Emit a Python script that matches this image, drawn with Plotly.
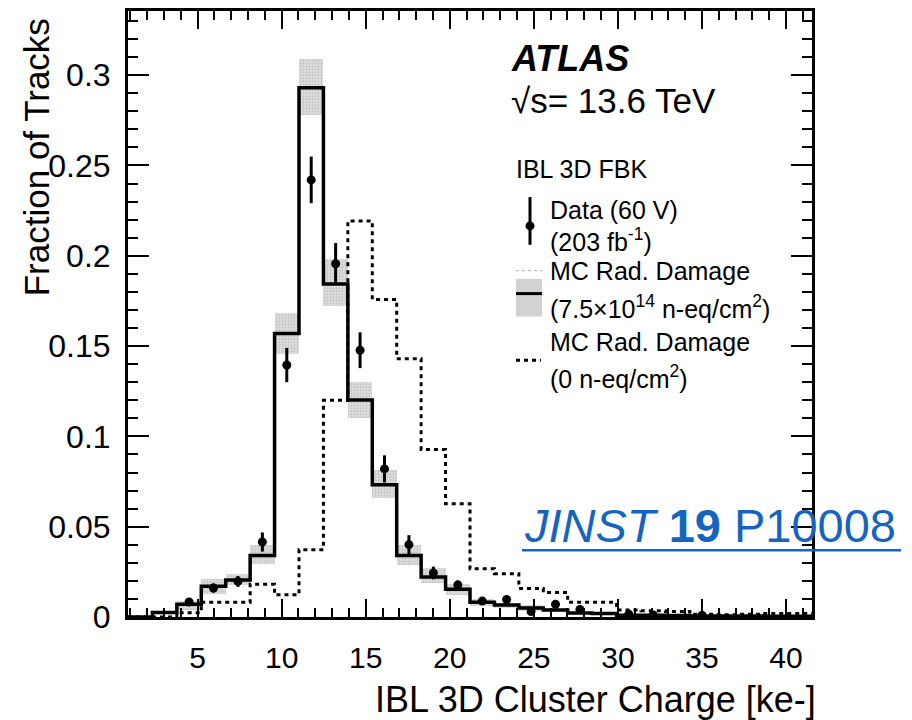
import plotly.graph_objects as go

# ---------------- data ----------------
bin_start = 0.86
bin_width = 1.453
n_bins = 28
edges = [round(bin_start + bin_width * i, 4) for i in range(n_bins + 1)]
centers = [round(bin_start + bin_width * (i + 0.5), 4) for i in range(n_bins)]

mc_rad = [0.0, 0.0025, 0.007, 0.017, 0.0205, 0.034, 0.157, 0.293, 0.1844, 0.1202,
          0.0732, 0.034, 0.0222, 0.0153, 0.0082, 0.0066, 0.005, 0.0039, 0.0022, 0.002,
          0.001, 0.0009, 0.0008, 0.0006, 0.0005, 0.0005, 0.0004, 0.0004]

band_lo = [0.0, 0.0015, 0.004, 0.013, 0.0177, 0.0292, 0.1455, 0.278, 0.172, 0.110,
           0.066, 0.029, 0.019, 0.012, 0.006, 0.005, 0.0035, 0.0028, 0.0014, 0.0013,
           0.0005, 0.0004, 0.0003, 0.0002, 0.0001, 0.0001, 0.0001, 0.0001]
band_hi = [0.0005, 0.0035, 0.009, 0.0208, 0.024, 0.0397, 0.1684, 0.309, 0.198, 0.130,
           0.0815, 0.0397, 0.027, 0.018, 0.010, 0.008, 0.0065, 0.005, 0.003, 0.0028,
           0.0018, 0.0016, 0.0015, 0.0012, 0.001, 0.0012, 0.0012, 0.0011]

mc_norad = [0.0, 0.0, 0.0024, 0.0082, 0.0082, 0.0182, 0.0123, 0.0373, 0.120, 0.2193,
            0.1758, 0.143, 0.0927, 0.0627, 0.0267, 0.0240, 0.0158, 0.0136, 0.0081, 0.0081,
            0.0039, 0.0035, 0.0030, 0.0015, 0.0012, 0.0015, 0.0020, 0.0020]

data_vals = [None, None, 0.0083, 0.016, 0.0197, 0.0415, 0.1395, 0.242, 0.1956, 0.1477,
             0.082, 0.0401, 0.0244, 0.0177, 0.0088, 0.0097, 0.003, 0.007, 0.0042, None,
             0.0015, 0.0011, None, 0.001, None, None, None, None]
data_err = [None, None, 0.0018, 0.0025, 0.003, 0.0053, 0.0095, 0.0129, 0.0115, 0.0099,
            0.0075, 0.0052, 0.0035, 0.0025, 0.0018, 0.0018, 0.001, 0.0015, 0.001, None,
            0.0005, 0.0005, None, 0.0005, None, None, None, None]

x_tick_vals = [5, 10, 15, 20, 25, 30, 35, 40]
x_tick_text = ["5", "10", "15", "20", "25", "30", "35", "40"]
y_tick_vals = [0, 0.05, 0.1, 0.15, 0.2, 0.25, 0.3]
y_tick_text = ["0", "0.05", "0.1", "0.15", "0.2", "0.25", "0.3"]

FONT = "Liberation Sans, Arial, Helvetica, sans-serif"

fig = go.Figure()

# uncertainty band of MC rad damage
fig.add_trace(go.Bar(
    x=centers,
    y=[h - l for h, l in zip(band_hi, band_lo)],
    base=band_lo,
    width=bin_width,
    marker=dict(color="#e2e2e2", line=dict(width=0),
                pattern=dict(shape=".", fgcolor="#a5a5a5", bgcolor="#e2e2e2", size=3, solidity=0.45)),
    showlegend=False, hoverinfo="skip",
))

# MC no damage (dashed)
fig.add_trace(go.Scatter(
    x=edges, y=mc_norad + [mc_norad[-1]], mode="lines", line_shape="hv",
    line=dict(color="black", width=3, dash="4px,4px"), showlegend=False,
))

# MC rad damage (solid)
fig.add_trace(go.Scatter(
    x=edges, y=mc_rad + [mc_rad[-1]], mode="lines", line_shape="hv",
    line=dict(color="black", width=3.5), showlegend=False,
))

# data
fig.add_trace(go.Scatter(
    x=centers, y=data_vals, mode="markers",
    marker=dict(color="black", size=9),
    error_y=dict(type="data", array=data_err, color="black", thickness=3, width=0),
    showlegend=False,
))

axis_common = dict(
    showline=True, linewidth=3, linecolor="black", mirror="ticks",
    ticks="inside", tickwidth=2, tickcolor="black",
    showgrid=False, zeroline=False,
)

fig.update_xaxes(
    range=[edges[0], edges[-1]],
    tickmode="array", tickvals=x_tick_vals, ticktext=x_tick_text,
    ticklen=18,
    minor=dict(ticks="inside", ticklen=9, tickwidth=2, tickcolor="black", dtick=1, tick0=0, showgrid=False),
    tickfont=dict(family=FONT, size=30, color="black"),
    ticklabelstandoff=12,
    **axis_common,
)
fig.update_yaxes(
    range=[0, 0.3355],
    tickmode="array", tickvals=y_tick_vals, ticktext=y_tick_text,
    ticklen=21,
    minor=dict(ticks="inside", ticklen=10, tickwidth=2, tickcolor="black", dtick=0.01, tick0=0, showgrid=False),
    tickfont=dict(family=FONT, size=32, color="black"),
    ticklabelstandoff=8,
    **axis_common,
)

L, R, T, B = 128, 100, 8, 103
W, H = 912, 720
pw, ph = W - L - R, H - T - B


def px(xp):
    return (xp - L) / pw


def py(yp):
    return (H - B - yp) / ph


annotations = []


def txt(text, xp, yp, size, family=FONT, color="black", xanchor="left", yanchor="middle", angle=0):
    annotations.append(dict(
        text=text, x=px(xp), y=py(yp), xref="paper", yref="paper",
        xanchor=xanchor, yanchor=yanchor, showarrow=False, textangle=angle,
        font=dict(family=family, size=size, color=color),
    ))


txt("<b><i>ATLAS</i></b>", 509, 56, 36)
txt("√s= 13.6 TeV", 509, 98, 35)
txt("IBL 3D FBK", 514, 167, 25)
txt("Data (60 V)", 548, 208, 25)
txt("(203 fb<sup>-1</sup>)", 548, 238, 25)
txt("MC Rad. Damage", 548, 269, 25)
txt("(7.5×10<sup>14</sup> n-eq/cm<sup>2</sup>)", 548, 305, 25)
txt("MC Rad. Damage", 548, 341, 25)
txt("(0 n-eq/cm<sup>2</sup>)", 548, 376, 25)
txt("<i>JINST</i> <b>19</b> P10008", 522, 525, 47, color="#1565c0")

# axis titles
txt("Fraction of Tracks", 36, 155, 35, angle=-90, xanchor="center")
txt("IBL 3D Cluster Charge [ke-]", 818, 700, 36, xanchor="right")

shapes = []
# data legend marker
shapes.append(dict(type="line", xref="paper", yref="paper", x0=px(530), x1=px(530), y0=py(195), y1=py(243),
                   line=dict(color="black", width=3)))
shapes.append(dict(type="circle", xref="paper", yref="paper", x0=px(525.5), x1=px(534.5), y0=py(228.5), y1=py(219.5),
                   fillcolor="black", line=dict(color="black", width=0)))
# MC rad damage legend
shapes.append(dict(type="rect", xref="paper", yref="paper", x0=px(516), x1=px(542), y0=py(315), y1=py(277),
                   fillcolor="#d2d2d2", line=dict(width=0)))
shapes.append(dict(type="line", xref="paper", yref="paper", x0=px(516), x1=px(542), y0=py(269), y1=py(269),
                   line=dict(color="#b0b0b0", width=1, dash="dot")))
shapes.append(dict(type="line", xref="paper", yref="paper", x0=px(516), x1=px(542), y0=py(292), y1=py(292),
                   line=dict(color="black", width=3)))
# MC no damage legend
shapes.append(dict(type="line", xref="paper", yref="paper", x0=px(516), x1=px(541), y0=py(359), y1=py(359),
                   line=dict(color="black", width=3, dash="4px,4px")))
# JINST underline
shapes.append(dict(type="line", xref="paper", yref="paper", x0=px(522), x1=px(901), y0=py(550), y1=py(550),
                   line=dict(color="#1565c0", width=2.5)))

fig.update_layout(
    width=W, height=H,
    margin=dict(l=L, r=R, t=T, b=B),
    paper_bgcolor="white", plot_bgcolor="white",
    barmode="overlay", bargap=0,
    showlegend=False,
    annotations=annotations,
    shapes=shapes,
)

fig.write_html("out.html")
